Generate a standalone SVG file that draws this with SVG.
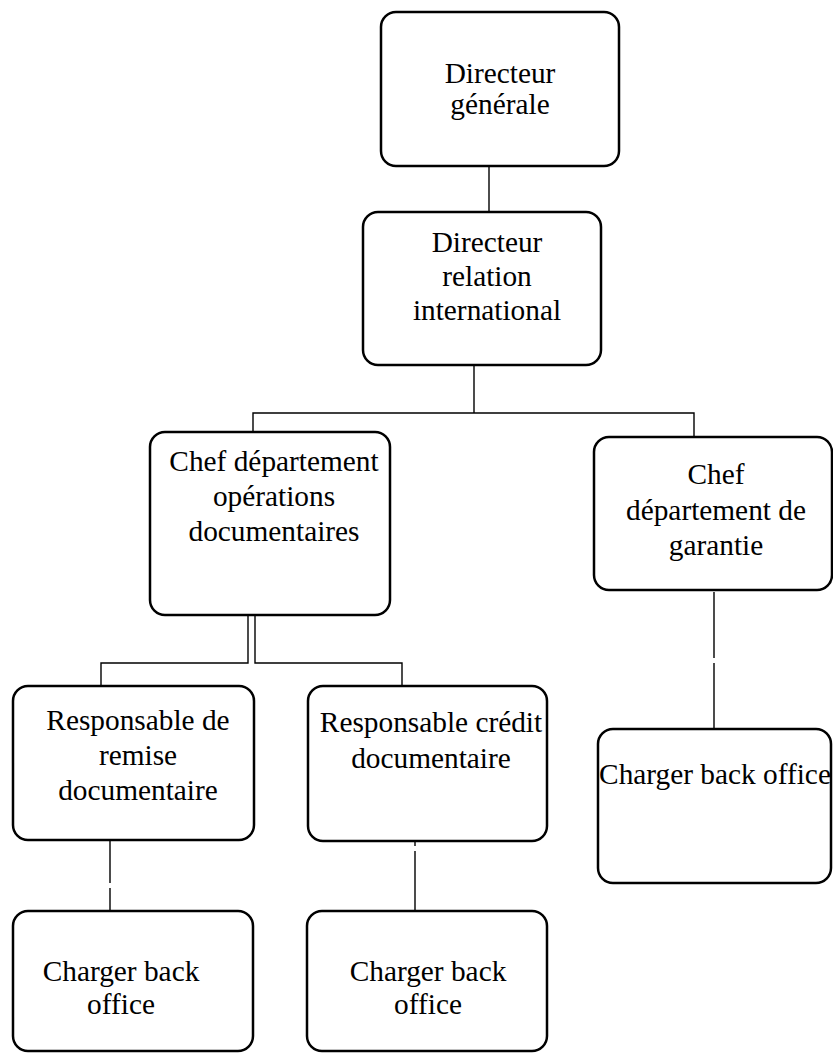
<svg xmlns="http://www.w3.org/2000/svg" width="833" height="1058" viewBox="0 0 833 1058">
<style>
.box{fill:#fff;stroke:#000;stroke-width:2.5}
.t{font-family:"Liberation Serif","DejaVu Serif",serif;font-size:29.33px;fill:#000;text-anchor:middle}
.c{fill:none;stroke:#000;stroke-width:1.4}
</style>
<rect width="833" height="1058" fill="#fff"/>
<g id="connectors">
<path class="c" d="M489,166V212"/>
<path class="c" d="M474,365V413M253,432V413H694V437"/>
<path class="c" d="M248,615V663H101V686"/>
<path class="c" d="M255,615V663H402V686"/>
<path class="c" d="M714,592V658M714,663V729"/>
<path class="c" d="M110,841V883M110,888V911"/>
<path class="c" d="M415,841V846M415,851V911"/>
</g>
<g id="n1"><rect class="box" x="381" y="12" width="238" height="154" rx="15"/>
<text class="t" x="500" y="83">Directeur</text><text class="t" x="500" y="114">générale</text></g>
<g id="n2"><rect class="box" x="363" y="212" width="238" height="153" rx="15"/>
<text class="t" x="487" y="252">Directeur</text><text class="t" x="487" y="286">relation</text><text class="t" x="487" y="320">international</text></g>
<g id="n3"><rect class="box" x="150" y="432" width="240" height="183" rx="15"/>
<text class="t" x="274" y="471">Chef département</text><text class="t" x="274" y="506">opérations</text><text class="t" x="274" y="541">documentaires</text></g>
<g id="n4"><rect class="box" x="594" y="437" width="238" height="153" rx="15"/>
<text class="t" x="716" y="484">Chef</text><text class="t" x="716" y="520">département de</text><text class="t" x="716" y="555">garantie</text></g>
<g id="n5"><rect class="box" x="598" y="729" width="233" height="154" rx="15"/>
<text class="t" x="715" y="784">Charger back office</text></g>
<g id="n6"><rect class="box" x="13" y="686" width="241" height="154" rx="15"/>
<text class="t" x="138" y="730">Responsable de</text><text class="t" x="138" y="765">remise</text><text class="t" x="138" y="800">documentaire</text></g>
<g id="n7"><rect class="box" x="308" y="686" width="239" height="155" rx="15"/>
<text class="t" x="431" y="732">Responsable crédit</text><text class="t" x="431" y="768">documentaire</text></g>
<g id="n8"><rect class="box" x="13" y="911" width="240" height="140" rx="15"/>
<text class="t" x="121" y="981">Charger back</text><text class="t" x="121" y="1014">office</text></g>
<g id="n9"><rect class="box" x="307" y="911" width="240" height="140" rx="15"/>
<text class="t" x="428" y="981">Charger back</text><text class="t" x="428" y="1014">office</text></g>
</svg>
